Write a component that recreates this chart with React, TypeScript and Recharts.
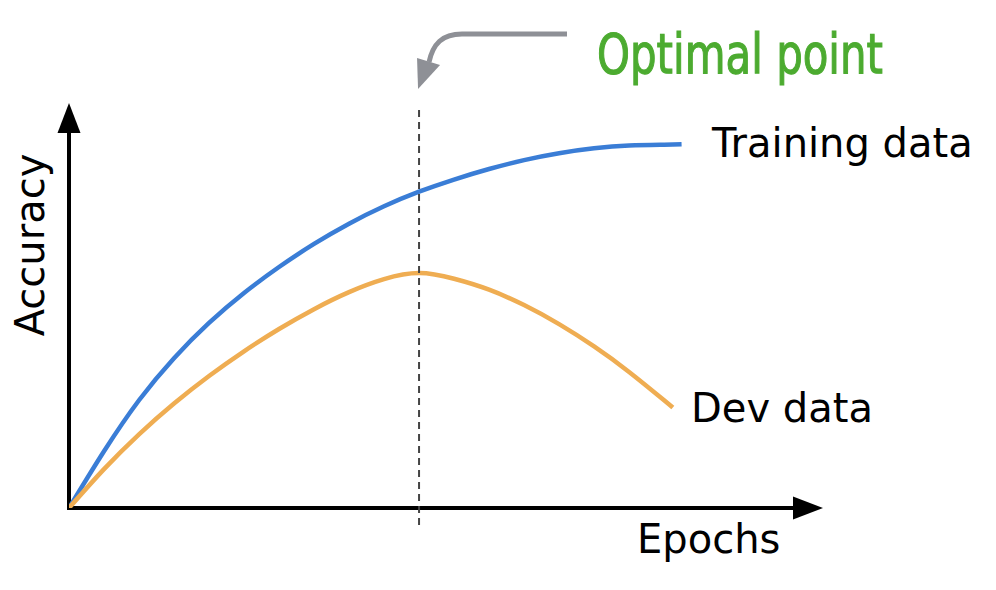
import { LineChart, Line, XAxis, YAxis, ReferenceLine } from "recharts";

// epochs on x, accuracy (0-100) on y
const trainEpochs = [0, 1, 2, 3, 4, 5, 6, 7, 8, 9, 10, 11, 12, 13, 14, 15, 16, 17, 17.5];
const trainAcc = [0, 14, 26.6, 37, 45.7, 53.1, 59.5, 65.2, 70.2, 74.5, 78.1, 81.1, 83.7, 85.9, 87.6, 88.8, 89.5, 89.7, 89.8];

const devEpochs = [0, 1, 2, 3, 4, 5, 6, 7, 8, 9, 10, 11, 12, 13, 14, 15, 16, 17, 17.25];
const devAcc = [0, 9.6, 18.2, 25.8, 32.6, 38.7, 44.2, 49.1, 53.3, 56.5, 58.0, 56.6, 53.9, 50.1, 45.4, 39.9, 33.6, 26.6, 24.8];

const optimalEpoch = 10;

const trainData = trainEpochs.map((epoch, i) => ({ epoch, acc: trainAcc[i] }));
const devData = devEpochs.map((epoch, i) => ({ epoch, acc: devAcc[i] }));

const W = 996;
const H = 590;
const margin = { top: 103, right: 173, bottom: 82, left: 69 };
const xMax = 21.54;
const yMax = 100;

// same mapping as the plot area, used for the drawn axes and annotation
const plotW = W - margin.left - margin.right;
const plotH = H - margin.top - margin.bottom;
const sx = (v: number) => margin.left + (v / xMax) * plotW;
const sy = (v: number) => margin.top + plotH - (v / yMax) * plotH;

const font = "'DejaVu Sans', sans-serif";

const Underlay = () => {
  const ox = sx(0);
  const oy = sy(0);
  const xTip = sx(xMax);
  const yTip = sy(yMax);
  const tipX = sx(optimalEpoch);
  return (
    <svg width={W} height={H} style={{ position: "absolute", left: 0, top: 0 }}>
      {/* axes */}
      <line x1={ox - 2} y1={oy} x2={xTip - 28} y2={oy} stroke="#000" strokeWidth={4} />
      <line x1={ox} y1={oy + 2} x2={ox} y2={yTip + 28} stroke="#000" strokeWidth={4} />
      <polygon points={`${xTip},${oy} ${xTip - 30},${oy - 11.5} ${xTip - 30},${oy + 11.5}`} fill="#000" />
      <polygon points={`${ox},${yTip} ${ox - 11.5},${yTip + 30} ${ox + 11.5},${yTip + 30}`} fill="#000" />

      {/* annotation arrow */}
      <path
        d={`M567,34 L462,34 C442,34 433,44 ${tipX + 10},62`}
        fill="none"
        stroke="#8e9096"
        strokeWidth={5}
      />
      <polygon points={`${tipX - 2},58 ${tipX + 21},65 ${tipX - 1},89`} fill="#8e9096" />

      <text
        x={597}
        y={73}
        fill="#4cab30"
        stroke="#4cab30"
        strokeWidth={1.2}
        fontFamily={font}
        fontSize={55}
        textLength={286}
        lengthAdjust="spacingAndGlyphs"
      >
        Optimal point
      </text>
      <text x={712} y={157} fill="#000" fontFamily={font} fontSize={40}>
        Training data
      </text>
      <text x={691} y={422} fill="#000" fontFamily={font} fontSize={40}>
        Dev data
      </text>
      <text x={637} y={553} fill="#000" fontFamily={font} fontSize={40}>
        Epochs
      </text>
      <text x={0} y={0} transform="translate(44,245) rotate(-90)" textAnchor="middle" fill="#000" fontFamily={font} fontSize={40}>
        Accuracy
      </text>
    </svg>
  );
};

export default function App() {
  return (
    <div style={{ position: "absolute", left: 0, top: 0, width: W, height: H, background: "#fff" }}>
      <Underlay />
      <div style={{ position: "absolute", left: 0, top: 0 }}>
        <LineChart width={W} height={H} margin={margin}>
          <XAxis type="number" dataKey="epoch" domain={[0, xMax]} hide allowDataOverflow />
          <YAxis type="number" domain={[0, yMax]} hide allowDataOverflow />
          <Line
            data={trainData}
            dataKey="acc"
            type="natural"
            stroke="#3a7dd6"
            strokeWidth={4.5}
            dot={false}
            isAnimationActive={false}
          />
          <Line
            data={devData}
            dataKey="acc"
            type="natural"
            stroke="#efad52"
            strokeWidth={4.5}
            dot={false}
            isAnimationActive={false}
          />
          <ReferenceLine
            segment={[
              { x: optimalEpoch, y: -4.2 },
              { x: optimalEpoch, y: 98.3 },
            ]}
            ifOverflow="visible"
            stroke="#444"
            strokeWidth={2}
            strokeDasharray="7 5"
          />
        </LineChart>
      </div>
    </div>
  );
}
